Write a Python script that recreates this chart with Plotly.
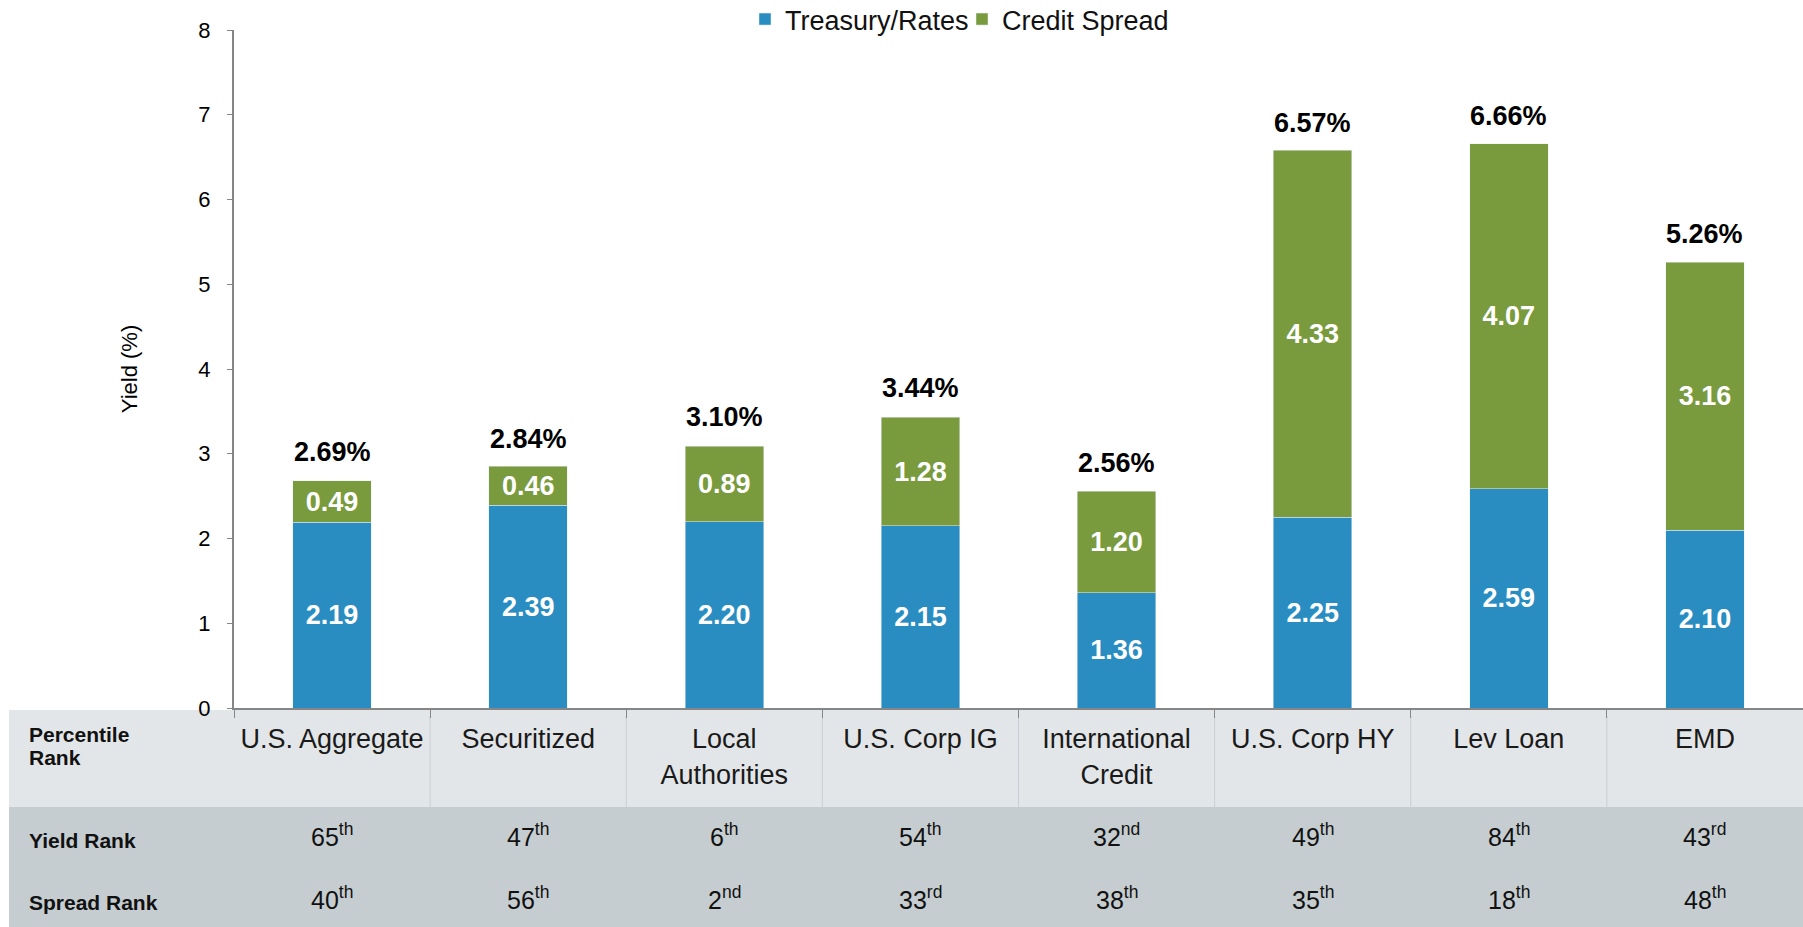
import plotly.graph_objects as go

# ---------------- data ----------------
categories = ["U.S. Aggregate", "Securitized", "Local<br>Authorities", "U.S. Corp IG",
              "International<br>Credit", "U.S. Corp HY", "Lev Loan", "EMD"]
treasury_rates = [2.19, 2.39, 2.20, 2.15, 1.36, 2.25, 2.59, 2.10]
credit_spread = [0.49, 0.46, 0.89, 1.28, 1.20, 4.33, 4.07, 3.16]
total_yield = [2.69, 2.84, 3.10, 3.44, 2.56, 6.57, 6.66, 5.26]
yield_rank = [65, 47, 6, 54, 32, 49, 84, 43]
spread_rank = [40, 56, 2, 33, 38, 35, 18, 48]
y_ticks = [0, 1, 2, 3, 4, 5, 6, 7, 8]

# ---------------- style ----------------
W, H = 1803, 927
PLOT_L, PLOT_R, PLOT_T, PLOT_B = 234, 1803, 30, 708
FONT = "Arial, Liberation Sans, sans-serif"
BLUE = "#2A8DC2"
GREEN = "#7A9A3E"
AXIS = "#868686"


def px_x(p):
    return p / W


def px_y(p):
    return 1 - p / H


def ordinal(n):
    if 10 <= n % 100 <= 20:
        suf = "th"
    else:
        suf = {1: "st", 2: "nd", 3: "rd"}.get(n % 10, "th")
    return f"{n}<sup>{suf}</sup>"


fig = go.Figure()
fig.add_trace(go.Bar(
    name="Treasury/Rates", x=categories, y=treasury_rates, marker_color=BLUE,
    texttemplate="<b>%{y:.2f}</b>", textposition="inside", insidetextanchor="middle",
    textangle=0, constraintext="none",
    textfont=dict(family=FONT, size=27, color="white"),
))
fig.add_trace(go.Bar(
    name="Credit Spread", x=categories, y=credit_spread, marker_color=GREEN,
    texttemplate="<b>%{y:.2f}</b>", textposition="inside", insidetextanchor="middle",
    textangle=0, constraintext="none",
    textfont=dict(family=FONT, size=27, color="white"),
))

annotations = []
for c, t in zip(categories, total_yield):
    annotations.append(dict(x=c, y=t, xref="x", yref="y", text=f"<b>{t:.2f}%</b>",
                            showarrow=False, yanchor="middle", yshift=28,
                            font=dict(family=FONT, size=27, color="black")))
for c, r in zip(categories, yield_rank):
    annotations.append(dict(x=c, y=px_y(835), xref="x", yref="paper", text=ordinal(r),
                            showarrow=False, yanchor="middle",
                            font=dict(family=FONT, size=25, color="#111111")))
for c, r in zip(categories, spread_rank):
    annotations.append(dict(x=c, y=px_y(898), xref="x", yref="paper", text=ordinal(r),
                            showarrow=False, yanchor="middle",
                            font=dict(family=FONT, size=25, color="#111111")))
row_labels = [("Percentile", 734), ("Rank", 757), ("Yield Rank", 840), ("Spread Rank", 902)]
for txt, py in row_labels:
    annotations.append(dict(x=px_x(27), y=px_y(py), xref="paper", yref="paper",
                            text=f"<b>{txt}</b>", showarrow=False, xanchor="left",
                            yanchor="middle", font=dict(family=FONT, size=21, color="#111111")))

shapes = [
    dict(type="rect", xref="paper", yref="paper", x0=px_x(9), x1=1, y0=px_y(807), y1=px_y(710),
         fillcolor="#E3E6E8", line_width=0, layer="below"),
    dict(type="rect", xref="paper", yref="paper", x0=px_x(9), x1=1, y0=0, y1=px_y(807),
         fillcolor="#C6CDD0", line_width=0, layer="below"),
]
for i in range(1, len(categories)):
    shapes.append(dict(type="line", xref="x", yref="paper", x0=i - 0.5, x1=i - 0.5,
                       y0=px_y(807), y1=px_y(716), line=dict(color="#C8CED1", width=1),
                       layer="below"))

fig.update_layout(
    width=W, height=H, autosize=False,
    margin=dict(l=0, r=0, t=0, b=0, pad=0, autoexpand=False),
    paper_bgcolor="white", plot_bgcolor="white",
    barmode="stack", bargap=0.6,
    font=dict(family=FONT, color="black"),
    showlegend=True,
    legend=dict(orientation="h", xref="paper", yref="paper",
                x=962 / W, xanchor="center", y=1 + 5 / H, yanchor="top",
                entrywidth=172, entrywidthmode="pixels",
                font=dict(family=FONT, size=27, color="#111111"),
                bgcolor="rgba(0,0,0,0)", traceorder="normal"),
    xaxis=dict(domain=[px_x(PLOT_L), px_x(PLOT_R)], automargin=False,
               showline=True, linecolor=AXIS, linewidth=2,
               ticks="outside", tickson="boundaries", ticklen=8, tickcolor=AXIS, tickwidth=1,
               tickfont=dict(family=FONT, size=27, color="#1a1a1a"),
               ticklabelstandoff=6, showgrid=False, zeroline=False, fixedrange=True),
    yaxis=dict(domain=[px_y(PLOT_B), px_y(PLOT_T)], automargin=False,
               range=[0, 8], tickvals=y_ticks, showline=True, linecolor=AXIS, linewidth=2,
               ticks="outside", ticklen=5, tickcolor=AXIS, tickwidth=1,
               tickfont=dict(family=FONT, size=22, color="black"),
               ticklabelstandoff=12, showgrid=False, zeroline=False, fixedrange=True,
               title=dict(text="Yield (%)", font=dict(family=FONT, size=22, color="black"),
                          standoff=55)),
    annotations=annotations,
    shapes=shapes,
)

fig.write_html("out.html", config={"displayModeBar": False},
               post_script="document.body.style.margin='0px';")
